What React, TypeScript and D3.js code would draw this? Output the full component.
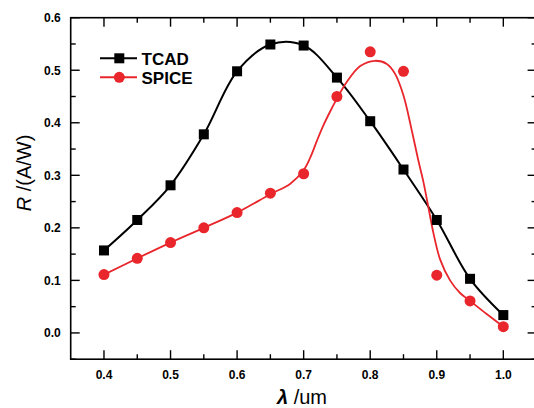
import React from "react";
import * as d3 from "d3";

const wavelengths = [0.4, 0.45, 0.5, 0.55, 0.6, 0.65, 0.7, 0.75, 0.8, 0.85, 0.9, 0.95, 1.0];
const tcadValues = [0.157, 0.215, 0.281, 0.378, 0.498, 0.549, 0.547, 0.486, 0.403, 0.311, 0.215, 0.103, 0.034];
const spiceValues = [0.111, 0.142, 0.172, 0.2, 0.229, 0.266, 0.303, 0.45, 0.535, 0.498, 0.11, 0.061, 0.012];

// smooth fitted curve for SPICE
const spiceFitX = [0.4, 0.45, 0.5, 0.55, 0.6, 0.65, 0.68, 0.7, 0.71, 0.72, 0.73, 0.74, 0.75, 0.765, 0.785, 0.807, 0.825, 0.837, 0.85, 0.862, 0.872, 0.88, 0.887, 0.895, 0.905, 0.92, 0.935, 0.95, 0.975, 1.0];
const spiceFitY = [0.111, 0.142, 0.172, 0.2, 0.229, 0.264, 0.284, 0.31, 0.334, 0.366, 0.396, 0.422, 0.446, 0.478, 0.508, 0.518, 0.512, 0.494, 0.452, 0.388, 0.33, 0.287, 0.242, 0.19, 0.14, 0.1, 0.076, 0.061, 0.036, 0.012];

const xTicks = [0.4, 0.5, 0.6, 0.7, 0.8, 0.9, 1.0];
const xMinorTicks = [0.45, 0.55, 0.65, 0.75, 0.85, 0.95];
const yTicks = [0.0, 0.1, 0.2, 0.3, 0.4, 0.5, 0.6];
const yMinorTicks = [-0.05, 0.05, 0.15, 0.25, 0.35, 0.45, 0.55];

const seriesNames = ["TCAD", "SPICE"];
const RED = "#e8262b";

export default function App() {
  const W = 534, H = 408;
  const x = d3.scaleLinear().domain([0.35, 1.05]).range([70.7, 536.6]);
  const y = d3.scaleLinear().domain([-0.05, 0.6]).range([359.2, 17.7]);
  const [x0, x1] = x.range();
  const [yb, yt] = y.range();

  const tcadPts: [number, number][] = wavelengths.map((w, i) => [x(w), y(tcadValues[i])]);
  const spicePts: [number, number][] = wavelengths.map((w, i) => [x(w), y(spiceValues[i])]);
  const fitPts: [number, number][] = spiceFitX.map((w, i) => [x(w), y(spiceFitY[i])]);

  const lineCR = d3.line().curve(d3.curveCatmullRom.alpha(0.5));
  const font = "'Liberation Sans', Arial, sans-serif";
  const major = 9, minor = 5;

  return (
    <svg width={W} height={H} style={{ position: "absolute", left: 0, top: 0, background: "#fff" }} fontFamily={font}>
      <rect x={0} y={0} width={W} height={H} fill="#fff" />
      {/* frame */}
      <rect x={x0} y={yt} width={x1 - x0} height={yb - yt} fill="none" stroke="#000" strokeWidth={1.6} />
      {/* x ticks */}
      {xTicks.map((t) => (
        <g key={"xt" + t}>
          <line x1={x(t)} x2={x(t)} y1={yb} y2={yb - major} stroke="#000" strokeWidth={1.4} />
          <line x1={x(t)} x2={x(t)} y1={yt} y2={yt + major} stroke="#000" strokeWidth={1.4} />
          <text x={x(t)} y={yb + 20} textAnchor="middle" fontSize={12} fontWeight="bold">{t.toFixed(1)}</text>
        </g>
      ))}
      {xMinorTicks.map((t) => (
        <g key={"xm" + t}>
          <line x1={x(t)} x2={x(t)} y1={yb} y2={yb - minor} stroke="#000" strokeWidth={1.4} />
          <line x1={x(t)} x2={x(t)} y1={yt} y2={yt + minor} stroke="#000" strokeWidth={1.4} />
        </g>
      ))}
      {/* y ticks */}
      {yTicks.map((t) => (
        <g key={"yt" + t}>
          <line x1={x0} x2={x0 + major} y1={y(t)} y2={y(t)} stroke="#000" strokeWidth={1.4} />
          <line x1={x1} x2={x1 - major} y1={y(t)} y2={y(t)} stroke="#000" strokeWidth={1.4} />
          <text x={x0 - 10} y={y(t) + 4.3} textAnchor="end" fontSize={12} fontWeight="bold">{t.toFixed(1)}</text>
        </g>
      ))}
      {yMinorTicks.map((t) => (
        <g key={"ym" + t}>
          <line x1={x0} x2={x0 + minor} y1={y(t)} y2={y(t)} stroke="#000" strokeWidth={1.4} />
          <line x1={x1} x2={x1 - minor} y1={y(t)} y2={y(t)} stroke="#000" strokeWidth={1.4} />
        </g>
      ))}
      {/* axis titles */}
      <text x={302} y={404} textAnchor="middle" fontSize={20}>
        <tspan fontStyle="italic" fontWeight="bold">λ</tspan> /um
      </text>
      <text transform="translate(31,173) rotate(-90)" textAnchor="middle" fontSize={20}>
        <tspan fontStyle="italic">R</tspan> /(A/W)
      </text>
      {/* curves */}
      <path d={lineCR(tcadPts) || ""} fill="none" stroke="#000" strokeWidth={2} />
      <path d={lineCR(fitPts) || ""} fill="none" stroke={RED} strokeWidth={1.8} />
      {/* markers */}
      {tcadPts.map(([px, py], i) => (
        <rect key={"sq" + i} x={px - 5} y={py - 5} width={10} height={10} fill="#000" />
      ))}
      {spicePts.map(([px, py], i) => (
        <circle key={"c" + i} cx={px} cy={py} r={5.5} fill={RED} />
      ))}
      {/* legend */}
      {seriesNames.map((name, i) => {
        const ly = 58.3 + i * 19;
        const color = i === 0 ? "#000" : RED;
        return (
          <g key={name}>
            <line x1={100} x2={137} y1={ly} y2={ly} stroke={color} strokeWidth={2} />
            {i === 0 ? (
              <rect x={119.3 - 5} y={ly - 5} width={10} height={10} fill={color} />
            ) : (
              <circle cx={119.3} cy={ly} r={5.5} fill={color} />
            )}
            <text x={141.5} y={ly + 6.3} fontSize={17} fontWeight="bold">{name}</text>
          </g>
        );
      })}
    </svg>
  );
}
